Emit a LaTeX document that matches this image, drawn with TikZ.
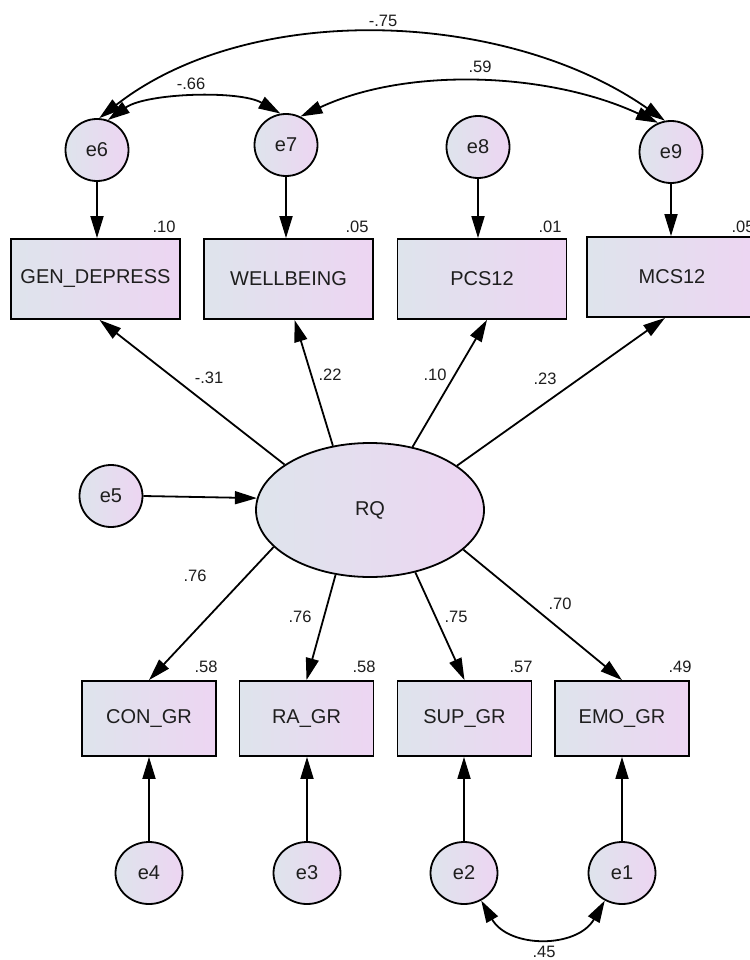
\documentclass[tikz,border=0pt]{standalone}
\usepackage{fontspec}
\setmainfont{Liberation Sans}
\usetikzlibrary{shapes.geometric,arrows.meta}
\definecolor{gl}{RGB}{222,228,236}
\definecolor{gr}{RGB}{237,213,242}
\definecolor{txt}{RGB}{30,30,30}
\begin{document}
\begin{tikzpicture}[x=1pt,y=-1pt,
 base/.style={draw=black,line width=1.8pt,left color=gl,right color=gr,text=txt,font=\fontsize{20}{20}\selectfont,inner sep=0pt},
 obs/.style={base,rectangle,minimum width=169pt,minimum height=80pt},
 obsl/.style={base,rectangle,minimum width=134pt,minimum height=75pt},
 err/.style={base,ellipse,minimum width=63pt,minimum height=62pt},
 lat/.style={base,ellipse,minimum width=228pt,minimum height=134pt},
 arr/.style={line width=1.8pt,-{Triangle[length=22pt,width=13pt]}},
 cov/.style={line width=1.8pt,{Triangle[length=22pt,width=13pt]}-{Triangle[length=22pt,width=13pt]}},
 lab/.style={font=\fontsize{16.5}{16.5}\selectfont,text=txt,inner sep=0pt}]
\useasboundingbox[fill=white] (0,0) rectangle (749,960);
% observed upper
\node[obs] (GEN) at (95.5,279) {GEN\_DEPRESS};
\node[obs] (WELL) at (288.5,279) {WELLBEING};
\node[obs] (PCS) at (482,279) {PCS12};
\node[obs,minimum width=170pt] (MCS) at (672,277) {MCS12};
% observed lower
\node[obsl] (CON) at (149,718.5) {CON\_GR};
\node[obsl] (RA) at (306.5,718.5) {RA\_GR};
\node[obsl] (SUP) at (464.5,718.5) {SUP\_GR};
\node[obsl] (EMO) at (622,718.5) {EMO\_GR};
% latent
\node[lat] (RQ) at (370,510) {RQ};
% errors
\node[err] (e6) at (97,150) {e6};
\node[err] (e7) at (286,145) {e7};
\node[err] (e8) at (478,147) {e8};
\node[err] (e9) at (671,152) {e9};
\node[err] (e5) at (111,496) {e5};
\node[err,minimum width=67pt] (e4) at (149,873) {e4};
\node[err,minimum width=67pt] (e3) at (307,873) {e3};
\node[err,minimum width=67pt] (e2) at (464,873) {e2};
\node[err,minimum width=67pt] (e1) at (622,873) {e1};
% error paths
\draw[arr] (e6.south) -- (e6.south |- GEN.north);
\draw[arr] (e7.south) -- (e7.south |- WELL.north);
\draw[arr] (e8.south) -- (e8.south |- PCS.north);
\draw[arr] (e9.south) -- (e9.south |- MCS.north);
\draw[arr] (e4.north) -- (e4.north |- CON.south);
\draw[arr] (e3.north) -- (e3.north |- RA.south);
\draw[arr] (e2.north) -- (e2.north |- SUP.south);
\draw[arr] (e1.north) -- (e1.north |- EMO.south);
\draw[arr] (e5.east) -- (RQ.174);
% loadings
\draw[arr] (RQ.152) -- ([xshift=4pt]GEN.south);
\draw[arr] (RQ.120) -- ([xshift=6pt]WELL.south);
\draw[arr] (RQ.56) -- ([xshift=5pt]PCS.south);
\draw[arr] (RQ.27) -- ([xshift=-7pt]MCS.south);
\draw[arr] (RQ.201) -- (CON.north);
\draw[arr] (RQ.242) -- (RA.north);
\draw[arr] (RQ.306) -- (SUP.north);
\draw[arr] (RQ.337) -- (EMO.north);
% covariances
\draw[cov] (e6.70) to[out=35,in=150,looseness=0.7] (e7.100);
\draw[cov] (e7.63) to[out=25,in=155,looseness=0.85] (e9.114);
\draw[cov] (e6.86) to[out=38,in=145,looseness=0.87] (e9.101);
\draw[cov] (e2.-58) to[out=-60,in=-120,looseness=1.15] (e1.-122);
% labels
\node[lab] (l1) at (383,21) {-.75};
\node[lab] (l2) at (191,84) {-.66};
\node[lab] (l3) at (480,67) {.59};
\node[lab] (l4) at (164,227) {.10};
\node[lab] (l5) at (357,227) {.05};
\node[lab] (l6) at (550,227) {.01};
\node[lab] (l7) at (743,227) {.05};
\node[lab] (l8) at (209,378) {-.31};
\node[lab] (l9) at (330,375) {.22};
\node[lab] (l10) at (435,375) {.10};
\node[lab] (l11) at (545,379) {.23};
\node[lab] (l12) at (195,576) {.76};
\node[lab] (l13) at (300,617) {.76};
\node[lab] (l14) at (456,617) {.75};
\node[lab] (l15) at (560,604) {.70};
\node[lab] (l16) at (206,667) {.58};
\node[lab] (l17) at (364,667) {.58};
\node[lab] (l18) at (521,667) {.57};
\node[lab] (l19) at (680,667) {.49};
\node[lab] (l20) at (544,952) {.45};
\end{tikzpicture}
\end{document}
